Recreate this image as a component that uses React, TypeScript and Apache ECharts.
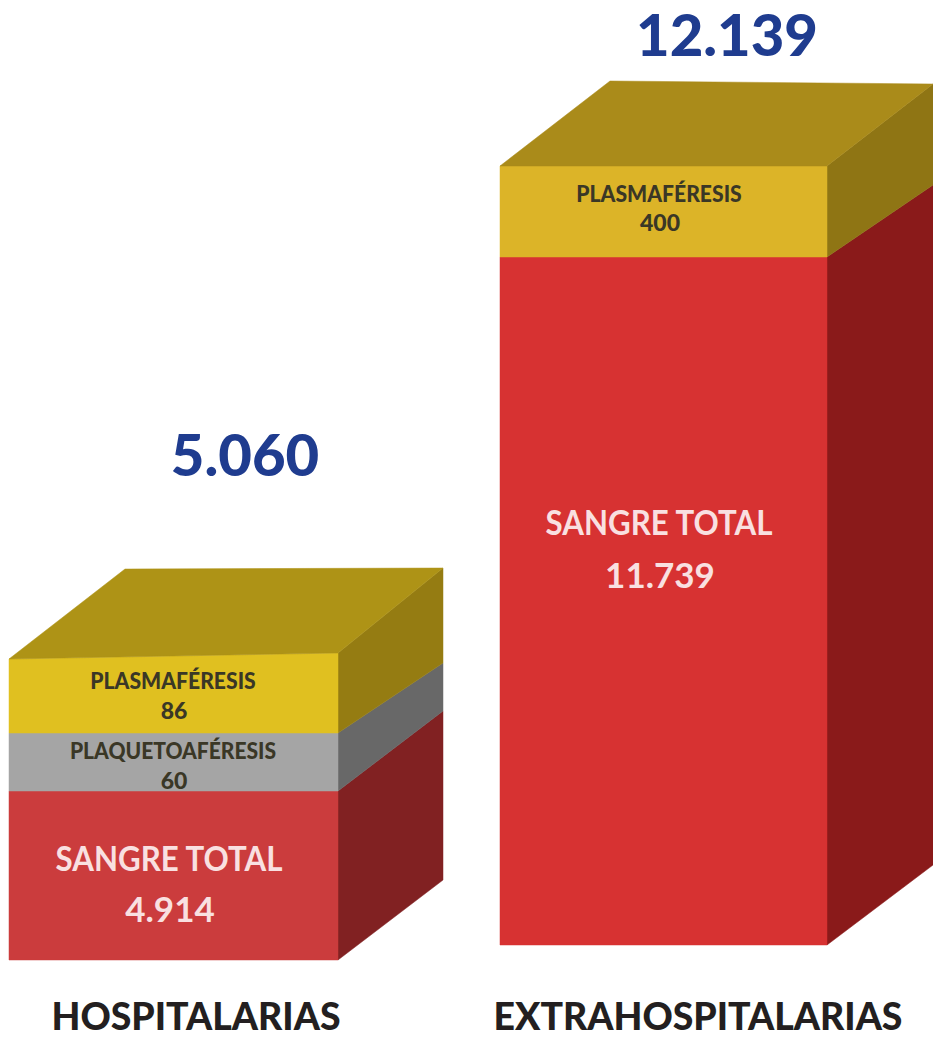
import React, { useEffect, useRef } from "react";
import * as echarts from "echarts";

const categories = ["HOSPITALARIAS", "EXTRAHOSPITALARIAS"];
const totals = [5060, 12139];
const sangreTotal = [4914, 11739];
const plaquetoaferesis = [60, null];
const plasmaferesis = [86, 400];
// The source draws its blocks not to scale: drawn height of each layer, in y-axis units.
const sangreDrawn = [169, 688];
const plaquetoDrawn = [58, 0];
const plasmaDrawn = [74, 91];

const FONT = "Lato";
const frontLeft = [9, 500];
const frontRight = [338, 827];
const baseline = [78, 93];
const backDx = [105, 106];
const backLeftDx = [116, 110];
const backLeftRise = [90, 85];
const bottomRise = [80, 80];
const topTilt = [6, 0];
const totalX = [245, 727];
const totalY = [453, 33];
const catX = [196, 698];
const catY = 1015;
const catScale = 0.984;

const fmt = (v: number) => String(v).replace(/\B(?=(\d{3})+$)/g, ".");

type Layer = {
  name: string;
  values: (number | null)[];
  drawn: number[];
  below: number[][];
  front: string[];
  side: string[];
  rise: number[];
  nameStyle: { size: number; scale: number; fill: string; weight: number };
  nameY: number[];
  valueY: number[];
  valueSize: number;
  labelX: number[];
};

const dark = "#3a3726";
const layers: Layer[] = [
  {
    name: "SANGRE TOTAL",
    values: sangreTotal,
    drawn: sangreDrawn,
    below: [],
    front: ["#cb3c3d", "#d73232"],
    side: ["#812122", "#8a1a1a"],
    rise: [80, 72],
    nameStyle: { size: 34, scale: 0.92, fill: "#f9e0e1", weight: 700 },
    nameY: [858, 522],
    valueY: [908, 574],
    valueSize: 35,
    labelX: [169, 659],
  },
  {
    name: "PLAQUETOAFÉRESIS",
    values: plaquetoaferesis,
    drawn: plaquetoDrawn,
    below: [sangreDrawn],
    front: ["#a5a5a5", "#a5a5a5"],
    side: ["#686868", "#686868"],
    rise: [70, 72],
    nameStyle: { size: 23, scale: 0.915, fill: dark, weight: 900 },
    nameY: [750, 0],
    valueY: [780, 0],
    valueSize: 23,
    labelX: [173, 0],
  },
  {
    name: "PLASMAFÉRESIS",
    values: plasmaferesis,
    drawn: plasmaDrawn,
    below: [sangreDrawn, plaquetoDrawn],
    front: ["#e0c020", "#dcb428"],
    side: ["#957c12", "#8f7514"],
    rise: [85, 82],
    nameStyle: { size: 23, scale: 0.92, fill: dark, weight: 900 },
    nameY: [680, 193],
    valueY: [710, 222],
    valueSize: 23,
    labelX: [173, 659],
  },
];
const topFace = ["#ae9316", "#aa8b1a"];

const PAGE_H = 1038;

function layerSeries(layer: Layer, li: number) {
  const data = categories
    .map((_, i) => {
      if (layer.values[i] == null) return null;
      const base = baseline[i] + layer.below.reduce((s, a) => s + a[i], 0);
      return [i, base, base + layer.drawn[i], layer.values[i]];
    })
    .filter(Boolean);
  return {
    type: "custom",
    name: layer.name,
    silent: true,
    clip: false,
    coordinateSystem: "cartesian2d",
    data,
    renderItem: (_: any, api: any) => {
      const i = api.value(0) as number;
      const base = api.value(1) as number;
      const top = api.value(2) as number;
      const value = api.value(3) as number;
      const pt = (x: number, v: number) => api.coord([x, v]);
      const lowRise = li === 0 ? bottomRise[i] : layers[li - 1].rise[i];
      const isTop = li === layers.length - 1;
      const tilt = isTop ? topTilt[i] : 0;
      const xl = frontLeft[i];
      const xr = frontRight[i];
      const xb = xr + backDx[i];
      const poly = (points: number[][], fill: string) => ({
        type: "polygon",
        shape: { points },
        style: { fill, stroke: fill, lineWidth: 0.5 },
      });
      const text = (s: string, x: number, y: number, size: number, fill: string, weight: number, scaleX: number) => ({
        type: "text",
        x: pt(x, 0)[0],
        y: pt(0, PAGE_H - y)[1],
        scaleX,
        style: { text: s, fontFamily: FONT, fontSize: size, fontWeight: weight, fill, align: "center", verticalAlign: "middle" },
      });
      const children: any[] = [
        poly([pt(xr, base), pt(xb, base + lowRise), pt(xb, top + tilt + layer.rise[i]), pt(xr, top + tilt)], layer.side[i]),
        poly([pt(xl, base), pt(xr, base), pt(xr, top + tilt), pt(xl, top)], layer.front[i]),
      ];
      if (isTop) {
        children.push(
          poly(
            [pt(xl, top), pt(xl + backLeftDx[i], top + backLeftRise[i]), pt(xb, top + tilt + layer.rise[i]), pt(xr, top + tilt)],
            topFace[i],
          ),
        );
      }
      children.push(
        text(layer.name, layer.labelX[i], layer.nameY[i], layer.nameStyle.size, layer.nameStyle.fill, layer.nameStyle.weight, layer.nameStyle.scale),
        text(fmt(value), layer.labelX[i] + 1, layer.valueY[i], layer.valueSize, layer.nameStyle.fill, layer.nameStyle.weight, 1),
      );
      return { type: "group", children };
    },
  };
}

const annotationSeries = {
  type: "custom",
  name: "Totales",
  silent: true,
  clip: false,
  coordinateSystem: "cartesian2d",
  data: categories.map((_, i) => [i, totals[i]]),
  renderItem: (_: any, api: any) => {
    const i = api.value(0) as number;
    const mk = (s: string, x: number, y: number, size: number, fill: string, weight: number, scaleX: number) => ({
      type: "text",
      x: api.coord([x, 0])[0],
      y: api.coord([0, PAGE_H - y])[1],
      scaleX,
      style: { text: s, fontFamily: FONT, fontSize: size, fontWeight: weight, fill, align: "center", verticalAlign: "middle" },
    });
    return {
      type: "group",
      children: [
        mk(fmt(api.value(1) as number), totalX[i], totalY[i], 58, "#1f3c8f", 900, 1),
        mk(categories[i], catX[i], catY, 38, "#231f20", 900, catScale),
      ],
    };
  },
};

export default function App() {
  const ref = useRef<HTMLDivElement>(null);
  useEffect(() => {
    document.body.style.margin = "0";
    const chart = echarts.init(ref.current!, null, { renderer: "svg" });
    chart.setOption({
      animation: false,
      backgroundColor: "#ffffff",
      grid: { left: 0, right: 0, top: 0, bottom: 0 },
      xAxis: { type: "value", min: 0, max: 933, show: false },
      yAxis: { type: "value", min: 0, max: PAGE_H, show: false },
      series: [...layers.map(layerSeries), annotationSeries],
    });
    return () => chart.dispose();
  }, []);
  return <div ref={ref} style={{ width: 933, height: 1038 }} />;
}
